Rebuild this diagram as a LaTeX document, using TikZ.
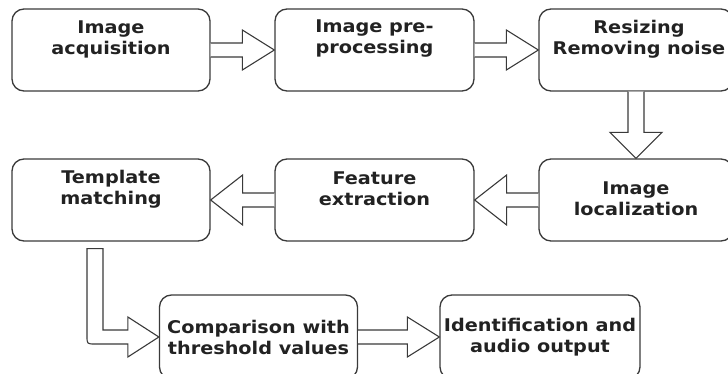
\documentclass[tikz,border=0pt]{standalone}
\usepackage{fontspec}
\setmainfont{DejaVu Sans}
\newfontfamily\boxfont{DejaVu Sans}[FakeStretch=1.1]
\usetikzlibrary{calc}
\definecolor{fline}{HTML}{3A3A3A}
\definecolor{ftext}{HTML}{222222}
\tikzset{
  box/.style  = {draw=fline, line width=1.3pt, rounded corners=12pt,
                 minimum width=198pt, minimum height=82pt, inner sep=0pt},
  txt/.style  = {text=ftext, font=\boxfont\fontsize{17.5}{21}\selectfont\bfseries,
                 align=center, inner sep=0pt},
  fat/.style  = {draw=fline, line width=1.1pt, fill=white, line join=miter},
}
% hollow block arrow, horizontal: [head half] {tail} {tip}
\newcommand{\harrow}[3][20pt]{%
  \draw[fat] let \p1=(#2), \p2=(#3), \n1={sign(\x2-\x1)} in
    (\x1,\y2+7pt) -- (\x2-\n1*32pt,\y2+7pt) -- (\x2-\n1*32pt,\y2+#1)
    -- (\x2,\y2) -- (\x2-\n1*32pt,\y2-#1) -- (\x2-\n1*32pt,\y2-7pt)
    -- (\x1,\y2-7pt);}

\begin{document}
\begin{tikzpicture}[x=1pt, y=-1pt]
\useasboundingbox (0,0) rectangle (728,374);
\clip (0,0) rectangle (728,374);
% ---------------- first row ----------------
\node[box] (acq) at (111,50)   {};
\node[box, minimum width=199pt] (pre) at (374.5,50) {};
\node[box, minimum width=194pt] (rsz) at (636,50)   {};
\node[txt] (acqT) at ([yshift=11pt]acq.center) {Image\\acquisition};
\node[txt] (preT) at ([yshift=11pt]pre.center) {Image pre-\\processing};
\node[txt] (rszT) at ([yshift=11pt,xshift=3pt]rsz.center) {Resizing\\Removing noise};
% ---------------- second row ----------------
\node[box] (tmpl) at (111,200) {};
\node[box, minimum width=199pt] (feat) at (374.5,200) {};
\node[box, minimum width=194pt] (loc)  at (636,200)   {};
\node[txt] (tmplT) at ([yshift=11pt]tmpl.center) {Template\\matching};
\node[txt] (featT) at ([yshift=11pt]feat.center) {Feature\\extraction};
\node[txt] (locT)  at ([yshift=1pt]loc.center)   {Image\\localization};
% ---------------- third row ----------------
\node[box, minimum height=84pt] (cmp) at (258.5,337) {};
\node[box, minimum height=84pt, minimum width=200pt] (idf) at (540,337) {};
\node[txt] (cmpT) at (cmp.center) {Comparison with\\threshold values};
\node[txt] (idfT) at (idf.center) {Identification and\\audio output};
% ---------------- hollow arrows ----------------
\harrow{acq.east}{pre.west}
\harrow{pre.east}{rsz.west}
\harrow[25pt]{loc.west}{feat.east}
\harrow[25pt]{feat.west}{tmpl.east}
\harrow{cmp.east}{idf.west}
% down, from resizing to localization
\draw[fat] let \p1=(rsz.south), \p2=(loc.north) in
  (\x1-8pt,\y1) -- (\x1-8pt,\y2+26pt) -- (\x1-26pt,\y2+26pt) -- (\x2,\y2)
  -- (\x1+26pt,\y2+26pt) -- (\x1+8pt,\y2+26pt) -- (\x1+8pt,\y1);
% bent, from template matching to comparison
\draw[fat] let \p1=([xshift=-16pt,yshift=-7pt]tmpl.south), \p2=(cmp.west) in
  (\x1+8pt,\y1) -- (\x1+8pt,\y2+7pt) -- (\x2-31pt,\y2+7pt) -- (\x2-31pt,\y2+20pt)
  -- (\x2,\y2) -- (\x2-31pt,\y2-20pt) -- (\x2-31pt,\y2-7pt) -- (\x1,\y2-7pt)
  .. controls (\x1-8pt,\y2-7pt) .. (\x1-8pt,\y2+1pt) -- (\x1-8pt,\y1) -- cycle;
\end{tikzpicture}
\end{document}
